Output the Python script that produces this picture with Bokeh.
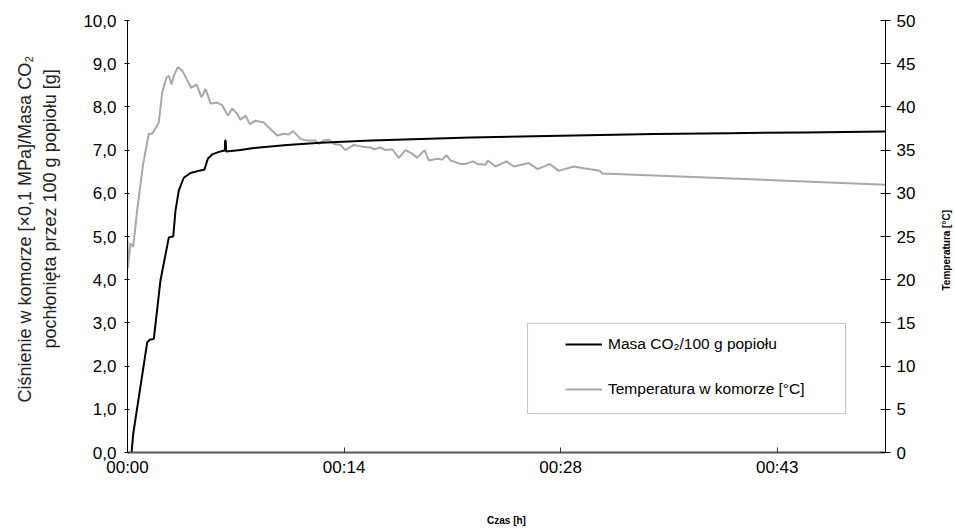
import math
from bokeh.plotting import figure
from bokeh.layouts import row
from bokeh.models import (Range1d, LinearAxis, FixedTicker, Legend, LegendItem,
                          Title, BoxAnnotation)
from bokeh.embed import file_html
from bokeh.resources import INLINE

FONT = "Liberation Sans"

# Time in minutes (Excel time axis: 0.01 day steps = 14.4 min)
mass_time = [0.27, 0.38, 1.31, 1.48, 1.75, 2.19, 2.75, 3.04, 3.19, 3.41, 3.74,
             4.19, 4.85, 5.12, 5.34, 5.63, 6.18, 6.47, 6.49, 6.53, 6.56, 7.51,
             8.4, 10.6, 12.83, 16.2, 22.8, 28.8, 35.0, 40.0, 45.0, 50.4]
mass_value = [0.0, 0.43, 2.55, 2.61, 2.63, 3.98, 4.98, 5.0, 5.6, 6.06, 6.36,
              6.47, 6.53, 6.55, 6.80, 6.90, 6.97, 6.99, 7.22, 7.22, 6.97, 7.0,
              7.05, 7.12, 7.17, 7.22, 7.29, 7.33, 7.37, 7.39, 7.41, 7.43]

temp_time = [0.0, 0.02, 0.2, 0.38, 0.64, 1.04, 1.42, 1.64, 1.86, 2.08, 2.31,
             2.59, 2.75, 2.93, 3.08, 3.34, 3.64, 3.97, 4.24, 4.59, 4.92, 5.19,
             5.52, 5.96, 6.30, 6.67, 6.96, 7.29, 7.51, 7.85, 8.13, 8.51, 9.06,
             9.95, 10.39, 10.72, 11.02, 11.50, 11.95, 12.50, 12.72, 13.05, 13.39,
             13.72, 14.16, 14.49, 15.05, 15.60, 16.16, 16.38, 16.82, 17.15, 17.6,
             18.04, 18.48, 18.93, 19.26, 19.75, 20.03, 20.59, 20.92, 21.21, 21.48,
             22.14, 22.47, 22.99, 23.25, 23.8, 23.96, 24.47, 25.2, 25.69, 26.68,
             27.28, 28.08, 28.68, 29.67, 30.34, 31.4, 31.56, 50.4]
temp_value = [24.5, 21.3, 24.2, 23.8, 28.0, 33.4, 36.9, 36.9, 37.5, 38.2, 41.7,
              43.4, 43.6, 42.6, 43.6, 44.6, 44.2, 43.1, 42.2, 42.6, 41.1, 42.1,
              40.4, 40.5, 40.2, 39.0, 39.8, 39.2, 38.5, 39.0, 38.0, 38.4, 38.2,
              36.7, 36.9, 36.8, 37.2, 36.3, 36.1, 36.1, 35.7, 36.1, 36.2,
              35.7, 35.6, 35.0, 35.6, 35.4, 35.3, 35.1, 35.3, 35.0, 35.1,
              34.1, 35.0, 34.6, 34.1, 35.0, 33.8, 34.0, 33.9, 34.4, 33.8,
              33.4, 33.4, 33.7, 33.4, 33.3, 33.8, 33.1, 33.7, 33.1, 33.5,
              32.8, 33.4, 32.6, 33.1, 32.9, 32.6, 32.3, 31.0]

x_ticks = [0, 14.4, 28.8, 43.2]
x_tick_labels = ["00:00", "00:14", "00:28", "00:43"]
left_ticks = [0, 1, 2, 3, 4, 5, 6, 7, 8, 9, 10]
left_tick_labels = ["0,0", "1,0", "2,0", "3,0", "4,0", "5,0", "6,0", "7,0",
                    "8,0", "9,0", "10,0"]
right_ticks = [0, 5, 10, 15, 20, 25, 30, 35, 40, 45, 50]

left_title_1 = "Ciśnienie w komorze [×0,1 MPa]/Masa CO₂"
left_title_2 = "pochłonięta przez 100 g popiołu [g]"
right_title = "Temperatura [°C]"
x_title = "Czas [h]"
series_names = ["Masa CO₂/100 g popiołu", "Temperatura w komorze [°C]"]

p = figure(width=925, height=528, output_backend="svg", toolbar_location=None,
           x_range=Range1d(0, 50.4), y_range=Range1d(0, 10),
           min_border_left=127, min_border_right=40, min_border_top=20,
           min_border_bottom=76)
p.extra_y_ranges = {"temp": Range1d(0, 50)}
p.outline_line_color = None
p.xgrid.visible = False
p.ygrid.visible = False

# bottom axis
xa = p.xaxis[0]
xa.ticker = FixedTicker(ticks=x_ticks)
xa.major_label_overrides = {t: l for t, l in zip(x_ticks, x_tick_labels)}
xa.axis_line_color = "#555555"
xa.axis_line_width = 2
xa.major_tick_in = 5
xa.major_tick_out = 0
xa.major_tick_line_color = "#333333"
xa.minor_tick_line_color = None
xa.major_label_standoff = 5
xa.major_label_text_font = FONT
xa.major_label_text_font_size = "17px"
xa.major_label_text_color = "#000000"
xa.axis_label = x_title
xa.axis_label_text_font = FONT
xa.axis_label_text_font_style = "bold"
xa.axis_label_text_font_size = "10px"
xa.axis_label_text_color = "#000000"
xa.axis_label_standoff = 35

# left axis
ya = p.yaxis[0]
ya.ticker = FixedTicker(ticks=left_ticks)
ya.major_label_overrides = {t: l for t, l in zip(left_ticks, left_tick_labels)}
ya.axis_line_color = "#000000"
ya.major_tick_in = 2
ya.major_tick_out = 3
ya.major_tick_line_color = "#000000"
ya.minor_tick_line_color = None
ya.major_label_standoff = 8
ya.major_label_text_font = FONT
ya.major_label_text_font_size = "17px"
ya.major_label_text_color = "#000000"
# blank spacer label: widens the axis panel so the side titles sit further out
ya.axis_label = " "
ya.axis_label_text_font_size = "3px"
ya.axis_label_standoff = 12

# right axis
ra = LinearAxis(y_range_name="temp", ticker=FixedTicker(ticks=right_ticks))
ra.axis_line_color = "#000000"
ra.major_tick_in = 5
ra.major_tick_out = 5
ra.major_tick_line_color = "#000000"
ra.minor_tick_line_color = None
ra.major_label_standoff = 6
ra.major_label_text_font = FONT
ra.major_label_text_font_size = "17px"
ra.major_label_text_color = "#000000"
p.add_layout(ra, "right")

r_temp = p.line(temp_time, temp_value, y_range_name="temp",
                line_color="#a8a8a8", line_width=2)
r_mass = p.line(mass_time, mass_value, line_color="#000000", line_width=2)

# left side titles (two lines), closest to the axis first
t2 = Title(text=left_title_2, align="left", offset=104, standoff=6,
           text_font=FONT, text_font_size="18px", text_font_style="normal",
           text_color="#222222")
t1 = Title(text=left_title_1, align="left", offset=50, standoff=0,
           text_font=FONT, text_font_size="18px", text_font_style="normal",
           text_color="#222222")
p.add_layout(t2, "left")
p.add_layout(t1, "left")

# legend frame
p.add_layout(BoxAnnotation(left=26.6, right=47.74, bottom=0.90, top=2.99,
                           fill_color="white", fill_alpha=1.0,
                           line_color="#333333", line_width=1))

legend = Legend(items=[LegendItem(label=series_names[0], renderers=[r_mass]),
                       LegendItem(label=series_names[1], renderers=[r_temp])],
                location=(438, 53), padding=0, spacing=25,
                glyph_width=37, glyph_height=20, label_height=20,
                label_standoff=6, border_line_alpha=0,
                background_fill_alpha=0,
                label_text_font=FONT, label_text_font_size="15.5px",
                label_text_color="#000000")
p.add_layout(legend)

# narrow strip carrying the right-hand (temperature) axis title
q = figure(width=28, height=528, output_backend="svg", toolbar_location=None,
           x_range=Range1d(0, 1), y_range=Range1d(0, 1),
           x_axis_type=None, y_axis_type=None,
           min_border_left=26, min_border_right=0, min_border_top=20,
           min_border_bottom=76)
q.outline_line_color = None
q.xgrid.visible = False
q.ygrid.visible = False
q.add_layout(Title(text=right_title, align="left", offset=162, standoff=0,
                   text_font=FONT, text_font_size="10px",
                   text_font_style="bold", text_color="#000000"), "left")

layout = row(p, q)
open("out.html", "w").write(file_html(layout, INLINE))
